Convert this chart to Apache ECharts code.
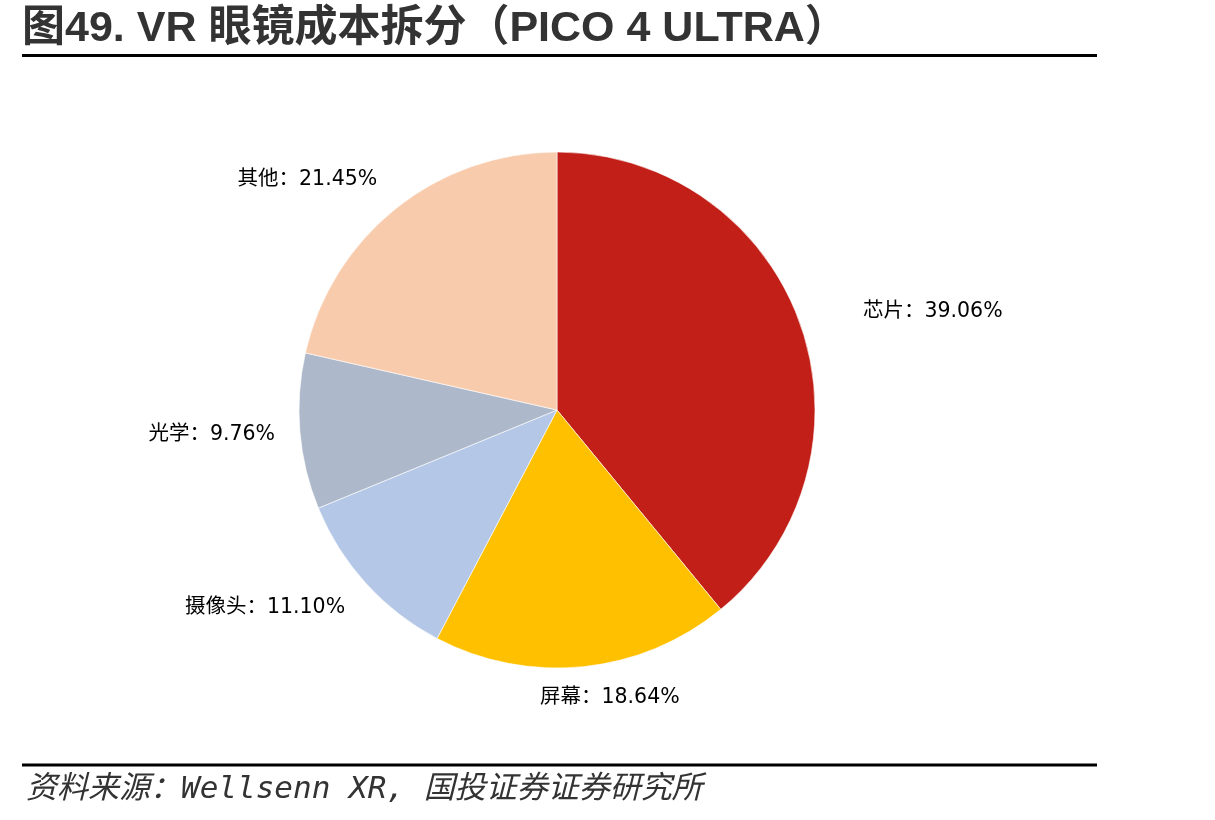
<!DOCTYPE html>
<html>
<head>
<meta charset="utf-8">
<script src="https://cdn.jsdelivr.net/npm/echarts@6/dist/echarts.min.js"></script>
<style>
html,body{margin:0;padding:0;background:#fff;}
#chart{width:1215px;height:820px;}
</style>
</head>
<body>
<div id="chart"></div>
<script>
// ---- data ----
const categories = ['芯片', '屏幕', '摄像头', '光学', '其他'];
const values = [39.06, 18.64, 11.10, 9.76, 21.45];
const titleText = '图49. VR 眼镜成本拆分（PICO 4 ULTRA）';
const sourceText = '资料来源：Wellsenn XR, 国投证券证券研究所';

// ---- style / layout ----
const colors = ['#C11F17', '#FFC000', '#B4C7E7', '#ADB9CA', '#F8CBAD'];
const labelLineLen = [33, 31.5, 36, 42, 36.5];
const labelLineLen2 = [27, -51.5, -10.5, -22, -9];

const chart = echarts.init(document.getElementById('chart'), null, {renderer: 'canvas'});

const pieData = categories.map((name, i) => ({
  name: name,
  value: values[i],
  itemStyle: {color: colors[i]},
  labelLine: {show: false, length: labelLineLen[i], length2: labelLineLen2[i]}
}));

chart.setOption({
  animation: false,
  backgroundColor: '#ffffff',
  series: [{
    type: 'pie',
    center: [557, 410],
    radius: [0, 258],
    startAngle: 90,
    clockwise: true,
    avoidLabelOverlap: false,
    itemStyle: {borderColor: '#ffffff', borderWidth: 0.6},
    label: {
      show: true,
      position: 'outside',
      distanceToLabelLine: 5,
      color: '#000',
      fontSize: 20.5,
      fontFamily: '"DejaVu Sans", "Noto Sans CJK SC", sans-serif',
      formatter: p => p.name + '：' + p.value.toFixed(2) + '%'
    },
    labelLine: {show: false},
    emphasis: {disabled: true},
    data: pieData
  }],
  graphic: [
    {
      type: 'text', left: 22, top: 8,
      style: {
        text: titleText,
        font: 'bold 43px "Liberation Sans", "Noto Sans CJK SC", sans-serif',
        fill: '#333'
      }
    },
    {
      type: 'line',
      shape: {x1: 22, y1: 55.5, x2: 1097, y2: 55.5},
      style: {stroke: '#000', lineWidth: 3}
    },
    {
      type: 'line',
      shape: {x1: 22, y1: 765, x2: 1097, y2: 765},
      style: {stroke: '#000', lineWidth: 3}
    },
    {
      type: 'text', left: 26, top: 774,
      style: {
        text: sourceText,
        font: 'italic 31px "DejaVu Sans Mono", "Noto Sans CJK SC", monospace',
        fill: '#333'
      }
    }
  ]
});
</script>
</body>
</html>
